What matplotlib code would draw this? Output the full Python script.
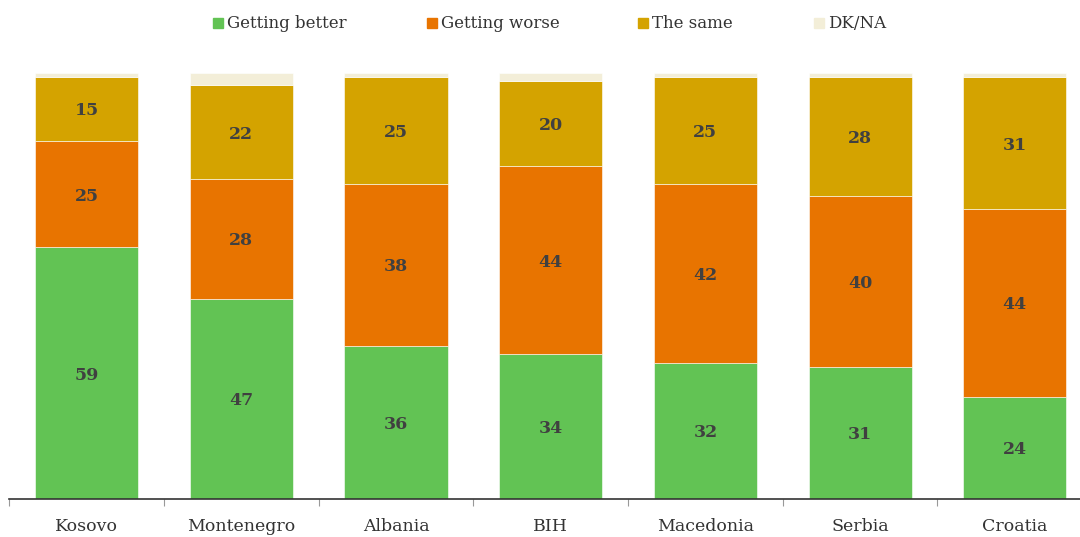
import matplotlib
matplotlib.use('Agg')
import matplotlib.pyplot as plt
from matplotlib.patches import Rectangle
import numpy as np

countries = ['Kosovo', 'Montenegro', 'Albania', 'BIH', 'Macedonia', 'Serbia', 'Croatia']
better = [59, 47, 36, 34, 32, 31, 24]
worse = [25, 28, 38, 44, 42, 40, 44]
same = [15, 22, 25, 20, 25, 28, 31]
dkna = [1, 3, 1, 2, 1, 1, 1]

series_names = ['Getting better', 'Getting worse', 'The same', 'DK/NA']
colors = ['#62c354', '#e87400', '#d4a300', '#f3eed8']

fig = plt.figure(figsize=(10.8, 5.37), dpi=100)
ax = fig.add_axes([9.2 / 1080, 1 - 499 / 537, 1083 / 1080, 426.3 / 537])

x = np.arange(len(countries))
bottom = np.zeros(len(countries))
for name, vals, col in zip(series_names, [better, worse, same, dkna], colors):
    vals = np.array(vals, dtype=float)
    ax.bar(x, vals, width=0.666, bottom=bottom, color=col,
           edgecolor='#ffffff', linewidth=0.4, label=name)
    if name != 'DK/NA':
        for xi, b, v in zip(x, bottom, vals):
            ax.text(xi, b + v / 2, '%d' % v, ha='center', va='center_baseline',
                    fontsize=12.5, fontweight='bold', color='#404040',
                    family='DejaVu Serif')
    bottom += vals

ax.set_xlim(-0.5, len(countries) - 0.5)
ax.set_ylim(0, 100)
ax.set_yticks([])
ax.set_xticks(np.arange(len(countries) + 1) - 0.5)
ax.set_xticklabels([])
ax.set_xticks(x, minor=True)
ax.set_xticklabels(countries, minor=True, fontsize=12.5, color='#333333',
                   family='DejaVu Serif')
ax.tick_params(axis='x', which='major', length=5, color='#999999', width=0.8)
ax.tick_params(axis='x', which='minor', length=0, pad=14)
for side in ['top', 'right', 'left']:
    ax.spines[side].set_visible(False)
ax.spines['bottom'].set_color('#333333')
ax.spines['bottom'].set_linewidth(1.2)

# legend row drawn by hand across the top
legend_x = [213, 427, 638, 814]
for px, name, col in zip(legend_x, series_names, colors):
    fig.patches.append(Rectangle((px / 1080, 1 - 28 / 537), 10 / 1080, 10 / 537,
                                 transform=fig.transFigure, color=col))
    fig.text((px + 14) / 1080, 1 - 23 / 537, name, ha='left', va='center',
             fontsize=12, color='#333333', family='DejaVu Serif')

fig.savefig('out.png', dpi=100)
